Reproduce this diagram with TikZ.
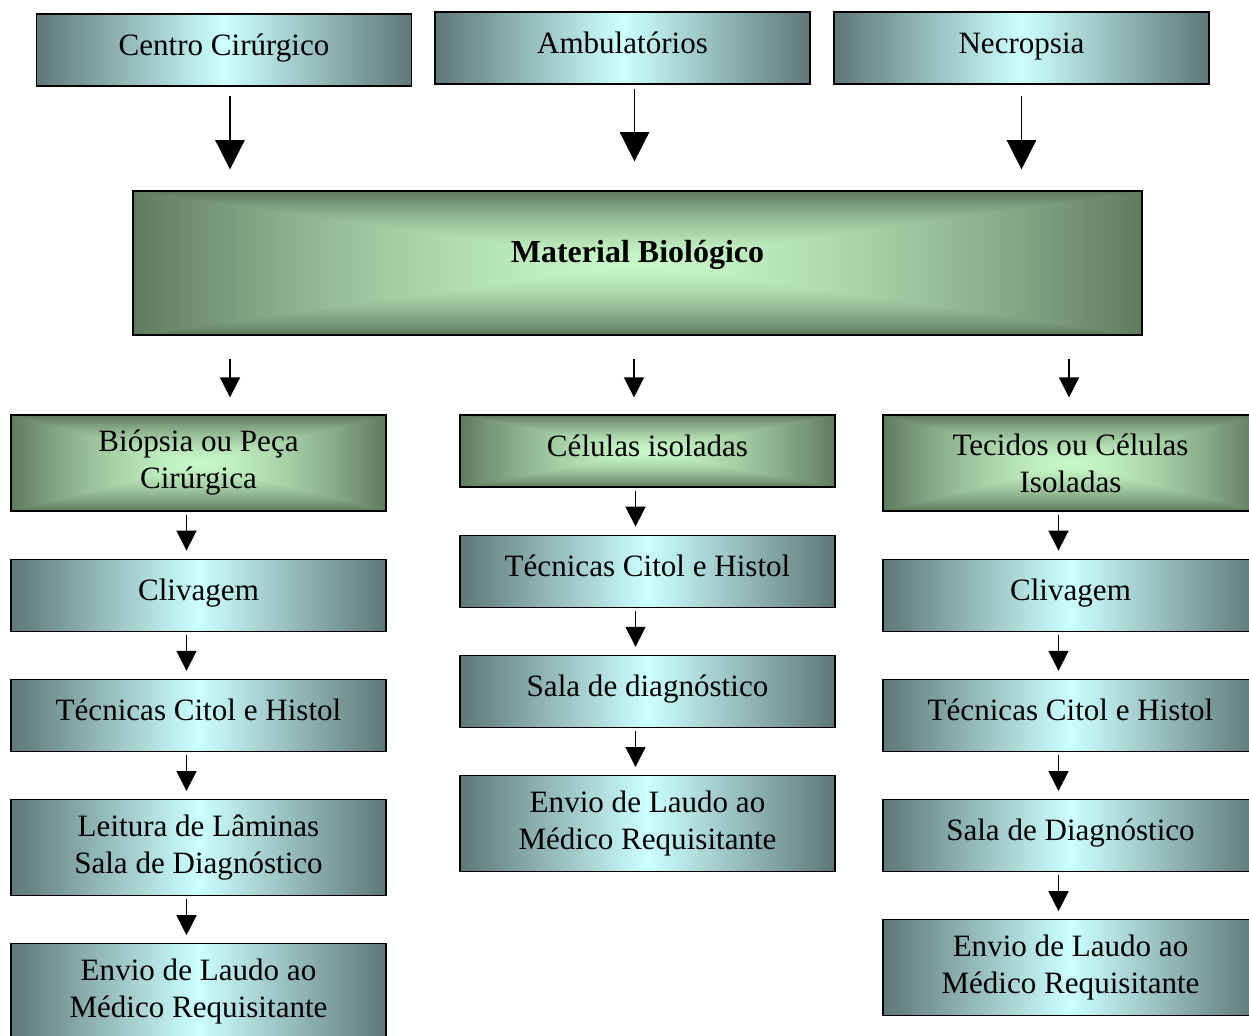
\documentclass[tikz,border=0pt]{standalone}
\usepackage{fontspec}
\setmainfont{Liberation Serif}
\usetikzlibrary{arrows.meta,positioning,calc}

\definecolor{slate}{HTML}{5E7876}
\definecolor{icecyan}{HTML}{CCFFFF}

% light green in the middle, dark green at the border
\pgfdeclarefunctionalshading{glow}{\pgfpoint{-50bp}{-50bp}}{\pgfpoint{50bp}{50bp}}{}{
  abs exch abs 2 copy lt {exch} if pop
  25 div dup 1 gt {pop 1} if
  dup sqrt mul
  dup -0.41 mul 0.78 add
  exch dup -0.49 mul 0.97 add
  exch -0.41 mul 0.78 add
}

\begin{document}
\begin{tikzpicture}[x=0.75pt, y=-0.75pt,
	basic/.style     = {draw, line width=0.9pt, rectangle, align=center, inner sep=0pt, minimum width=281.25pt, text height=17pt, text depth=9pt, font=\fontsize{23.3}{27.75}\selectfont},
	slatebox/.style  = {basic, minimum height=54pt, left color=slate, right color=slate, middle color=icecyan},
	glowbox/.style   = {basic, minimum height=54pt, shading=glow},
	twoline/.style   = {minimum height=72pt, text height=, text depth=},
	bigarrow/.style  = {-{Triangle[width=22pt,length=22pt]}, line width=1.2pt},
	smallarrow/.style= {-{Triangle[width=15pt,length=15pt]}, line width=1.2pt},
	node distance=35.25pt]
	
	\useasboundingbox (0,0) rectangle (1249,1035);
	
	% where the material comes from
	\node[slatebox] (cir) at (224,50) {Centro Cirúrgico};
	\node[slatebox] (amb) at (622.5,48) {Ambulatórios};
	\node[slatebox] (nec) at (1021.5,48) {Necropsia};
	
	% the central box
	\node[glowbox, minimum width=756.75pt, minimum height=108pt, text depth=17.7pt, font=\fontsize{24}{28}\selectfont\bfseries] (mat) at (637.5,263) {Material Biológico};
	
	% heads of the three columns
	\node[glowbox, twoline] (b1) at (198.5,463) {Biópsia ou Peça\\Cirúrgica};
	\node[glowbox] (c1) at (647.5,451) {Células isoladas};
	\node[glowbox, twoline] (t1) at (1070.5,463) {Tecidos ou Células\\Isoladas};
	
	% the steps below each head
	\begin{scope}[every node/.style={slatebox}]
		\node[below=of b1] (b2) {Clivagem};
		\node[below=of b2] (b3) {Técnicas Citol e Histol};
		\node[below=of b3, twoline] (b4) {Leitura de Lâminas\\Sala de Diagnóstico};
		\node[below=of b4, twoline] (b5) {Envio de Laudo ao\\Médico Requisitante};
		
		\node[below=of c1] (c2) {Técnicas Citol e Histol};
		\node[below=of c2] (c3) {Sala de diagnóstico};
		\node[below=of c3, twoline] (c4) {Envio de Laudo ao\\Médico Requisitante};
		
		\node[below=of t1] (t2) {Clivagem};
		\node[below=of t2] (t3) {Técnicas Citol e Histol};
		\node[below=of t3] (t4) {Sala de Diagnóstico};
		\node[below=of t4, twoline] (t5) {Envio de Laudo ao\\Médico Requisitante};
	\end{scope}
	
	% big arrows into the central box
	\draw[bigarrow] ($(cir.south)+(6,9)$) -- ($(cir.south |- mat.north)+(6,-21)$);
	\draw[bigarrow] ($(amb.south)+(12,4)$) -- ($(amb.south |- mat.north)+(12,-29)$);
	\draw[bigarrow] ($(nec.south)+(0,11)$) -- ($(nec.south |- mat.north)+(0,-21)$);
	
	% from the central box to each column
	\foreach \col/\dx in {b1/31.5, c1/-13.5, t1/-1.5}
	\draw[smallarrow] ($(\col.north |- mat.south)+(\dx,23)$) -- ($(\col.north)+(\dx,-17)$);
	
	% down each column
	\foreach \a/\b in {b1/b2,b2/b3,b3/b4,b4/b5,c1/c2,c2/c3,c3/c4,t1/t2,t2/t3,t3/t4,t4/t5}
	\draw[smallarrow] ($(\a.south)+(-12,3)$) -- ($(\b.north)+(-12,-8)$);
	
\end{tikzpicture}
\end{document}
